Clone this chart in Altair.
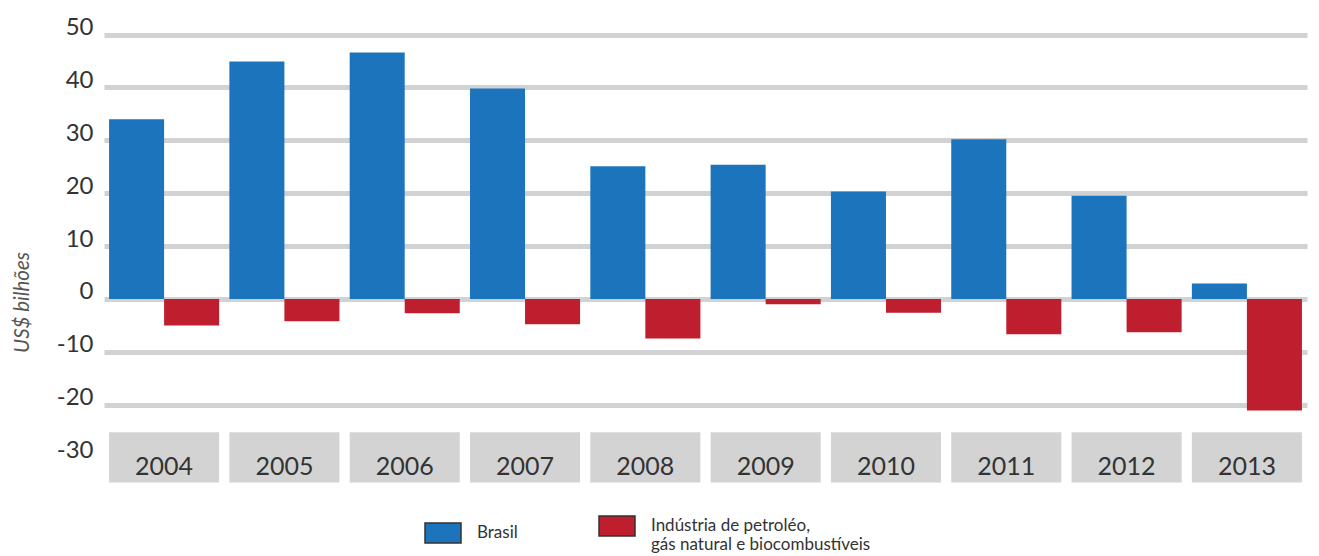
import altair as alt
import pandas as pd

years = ["2004", "2005", "2006", "2007", "2008", "2009", "2010", "2011", "2012", "2013"]
brasil = [34.0, 44.9, 46.6, 39.8, 25.1, 25.4, 20.3, 30.2, 19.5, 2.9]
industria = [-5.0, -4.2, -2.7, -4.8, -7.5, -1.0, -2.6, -6.7, -6.3, -21.1]
series = ["Brasil", "Indústria de petroléo, gás natural e biocombustíveis"]
colors = ["#1c75bc", "#be1e2d"]
y_ticks = [-30, -20, -10, 0, 10, 20, 30, 40, 50]

rows = []
for i, yr in enumerate(years):
    rows.append({"ano": yr, "serie": series[0], "valor": brasil[i]})
    rows.append({"ano": yr, "serie": series[1], "valor": industria[i]})
df = pd.DataFrame(rows)
df_years = pd.DataFrame({"ano": years})

FONT = "Lato"

x_enc = alt.X("ano:N", sort=years, axis=None,
              scale=alt.Scale(paddingInner=0.085, paddingOuter=0.042))
y_scale = alt.Scale(domain=[-35, 52], nice=False, zero=False)

boxes = alt.Chart(df_years).mark_rect(color="#d3d3d3").encode(
    x=x_enc,
    y=alt.Y(datum=-25.2, scale=y_scale),
    y2=alt.Y2(datum=-34.7),
)

labels = alt.Chart(df_years).mark_text(
    font=FONT, fontSize=25, color="#333333", baseline="middle", align="center"
).encode(
    x=x_enc,
    y=alt.Y(datum=-31.8, scale=y_scale),
    text="ano:N",
)

bars = alt.Chart(df).mark_bar(opacity=1).encode(
    x=x_enc,
    xOffset=alt.XOffset("serie:N", sort=series,
                        scale=alt.Scale(paddingInner=0, paddingOuter=0)),
    y=alt.Y("valor:Q", scale=y_scale,
            axis=alt.Axis(
                values=y_ticks,
                labelExpr="datum.value + ''",
                title="US$ bilhões",
                titleFont=FONT, titleFontSize=20.5, titleFontStyle="italic",
                titleFontWeight="normal", titleColor="#555555",
                titleAngle=270, titleAlign="center", titleBaseline="middle",
                titleX=-82, titleY=278,
                labelFont=FONT, labelFontSize=24, labelColor="#333333",
                labelPadding=11, labelBaseline="alphabetic",
                domain=False, ticks=False,
                grid=True, gridColor="#d1d2d4", gridWidth=5,
                gridOpacity={"condition": {"test": "datum.value === -30", "value": 0}, "value": 1},
            )),
    color=alt.Color("serie:N", sort=series,
                    scale=alt.Scale(domain=series, range=colors),
                    legend=alt.Legend(
                        orient="none", legendX=328, legendY=491,
                        direction="horizontal", title=None,
                        symbolType="M-1.8,-1L1.8,-1L1.8,1L-1.8,1Z",
                        symbolSize=400, symbolStrokeColor="#333333",
                        symbolStrokeWidth=1.5, symbolOpacity=1,
                        labelFont=FONT, labelFontSize=17, labelColor="#333333",
                        labelLimit=400,
                        labelOffset=23, columnPadding=78, padding=0,
                        labelExpr="datum.label == 'Brasil' ? 'Brasil' : ['Indústria de petroléo,', ' gás natural e biocombustíveis']",
                    )),
)

chart = alt.layer(boxes, bars, labels).properties(
    width=1203, height=460,
    padding={"left": 96, "top": 16, "right": 2, "bottom": 70},
    autosize=alt.AutoSizeParams(type="none"),
).configure(background="white").configure_view(strokeWidth=0, stroke="transparent")

chart.save("out.html", embed_options={"renderer": "svg", "actions": False})
